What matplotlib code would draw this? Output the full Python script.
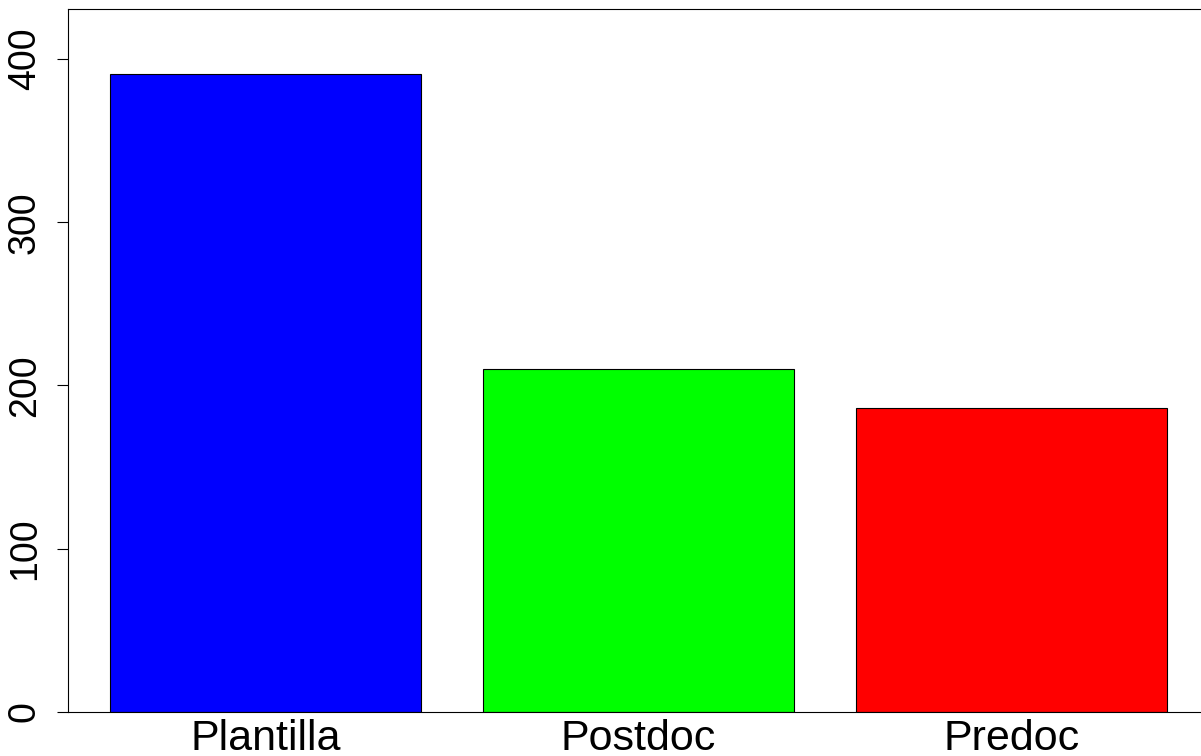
import matplotlib.pyplot as plt

categories = ["Plantilla", "Postdoc", "Predoc"]
counts = [391, 210, 186]
colors = ["#0000ff", "#00ff00", "#ff0000"]
yticks = [0, 100, 200, 300, 400]

plt.rcParams['font.family'] = ['Liberation Sans', 'DejaVu Sans']

fig = plt.figure(figsize=(12.01, 7.56), dpi=100)
W, H = 1201, 756
# axes box in pixels: left 68, right ~1209 (past the edge), top 9, bottom 712
ax = fig.add_axes([68 / W, (H - 712) / H, (1209 - 68) / W, (712 - 9) / H])

# R-style barplot positions: width 1, space 0.2
xpos = [0.7 + 1.2 * i for i in range(len(categories))]
ax.bar(xpos, counts, width=1.0, color=colors, edgecolor="black", linewidth=0.8)

ax.set_xlim(0.064, 3.736)
ax.set_ylim(0, 430.6)

ax.set_yticks(yticks)
ax.set_yticklabels([str(v) for v in yticks], rotation=90, va="center", fontsize=27)
ax.tick_params(axis="y", length=8, width=0.8, pad=10)

ax.set_xticks(xpos)
ax.set_xticklabels(categories, fontsize=31)
ax.tick_params(axis="x", length=0, pad=5)

for s in ["left", "top", "bottom", "right"]:
    ax.spines[s].set_linewidth(0.8)

fig.savefig("out.png", dpi=100)
